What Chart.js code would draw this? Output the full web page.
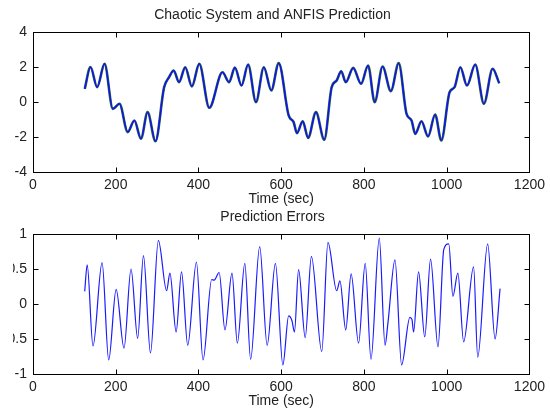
<!DOCTYPE html>
<html>
<head>
<meta charset="utf-8">
<script src="https://cdn.jsdelivr.net/npm/chart.js@4.4.1/dist/chart.umd.min.js"></script>
<style>
  body { margin: 0; background: #fff; width: 550px; height: 412px; overflow: hidden; position: relative; }
  .panel { position: absolute; left: 13px; width: 537px; }
  #top { top: 0; height: 212px; }
  #bottom { top: 206px; height: 206px; }
</style>
</head>
<body>
<div class="panel" id="top"><canvas id="systemChart"></canvas></div>
<div class="panel" id="bottom"><canvas id="errorChart"></canvas></div>
<script>
const timeTop = [125, 139, 155, 173, 193, 209, 229, 245, 261, 277, 296, 317, 329, 340, 353, 368, 384, 402, 426, 458,
  474, 488, 504, 520, 539, 558, 576, 594, 618, 630, 638, 652, 665, 684, 704, 722, 734, 745, 756, 774,
  793, 810, 826, 845, 865, 884, 903, 915, 924, 939, 955, 972, 987, 1007, 1019, 1033, 1049, 1069, 1090, 1111, 1127];
const actualTop = [0.75, 2.0, 0.85, 2.18, -0.39, -0.1, -1.72, -1.06, -2.1, -0.58, -2.24, 0.85, 1.42, 1.8, 1.13, 1.99, 0.89, 2.18, -0.33, 1.7,
  1.13, 1.97, 0.94, 2.14, -0.01, 1.99, 0.66, 2.22, -0.77, -1.15, -1.78, -1.1, -2.05, -0.58, -2.16, 0.85, 1.23, 1.76, 1.13, 1.95,
  1.04, 2.09, -0.01, 2.03, 0.62, 2.22, -0.68, -1.06, -1.82, -1.1, -1.97, -0.71, -2.2, 0.56, 0.85, 1.99, 0.94, 2.14, -0.1, 1.9, 1.07];
const predictedTop = [0.75, 2.0, 0.85, 2.18, -0.39, -0.1, -1.72, -1.06, -2.1, -0.58, -2.24, 0.85, 1.42, 1.8, 1.13, 1.99, 0.89, 2.18, -0.33, 1.7,
  1.13, 1.97, 0.94, 2.14, -0.01, 1.99, 0.66, 2.22, -0.77, -1.15, -1.78, -1.1, -2.05, -0.58, -2.16, 0.85, 1.23, 1.76, 1.13, 1.95,
  1.04, 2.09, -0.01, 2.03, 0.62, 2.22, -0.68, -1.06, -1.82, -1.1, -1.97, -0.71, -2.2, 0.56, 0.85, 1.99, 0.94, 2.14, -0.1, 1.9, 1.07];

const timeErr = [125, 131, 145, 167, 183, 201, 220, 237, 253, 267, 284, 303, 323, 331, 346, 359, 374, 395, 411, 432,
  438, 450, 464, 481, 494, 512, 526, 548, 566, 586, 604, 618, 626, 632, 642, 658, 673, 698, 713, 734,
  742, 756, 769, 787, 803, 817, 837, 851, 858, 875, 891, 911, 916, 920, 932, 947, 961, 979, 993, 1005,
  1015, 1027, 1041, 1065, 1075, 1099, 1117, 1129];
const errorValues = [0.18, 0.56, -0.6, 0.59, -0.8, 0.21, -0.63, 0.5, -0.49, 0.69, -0.7, 0.91, 0.19, 0.44, -0.4, 0.46, -0.59, 0.6, -0.8, 0.35,
  0.34, 0.45, -0.37, 0.44, -0.56, 0.58, -0.79, 0.82, -0.59, 0.58, -0.87, -0.17, -0.24, -0.4, 0.49, -0.48, 0.68, -0.68, 0.88, 0.19,
  0.33, -0.37, 0.43, -0.56, 0.58, -0.79, 0.94, -0.59, -0.27, 0.63, -0.87, -0.19, -0.22, -0.4, 0.46, -0.47, 0.64, -0.61, 0.78, 0.86,
  0.11, 0.44, -0.54, 0.53, -0.76, 0.86, -0.5, 0.22];

const TEXT = '#222';
const FONT = { family: 'Liberation Sans, Arial, sans-serif', size: 14, weight: 'normal' };

function points(xs, ys){
  return xs.map((x, i) => ({ x: x, y: ys[i] }));
}

// matlab style box with inward ticks on all sides
const boxTicks = {
  id: 'boxTicks',
  afterDatasetsDraw(chart){
    const { ctx, chartArea: a, scales: { x, y } } = chart;
    const L = Math.round(a.left) + 0.5, R = Math.round(a.right) + 0.5;
    const T = Math.round(a.top) + 0.5, B = Math.round(a.bottom) + 0.5;
    ctx.save();
    ctx.strokeStyle = '#000';
    ctx.lineWidth = 1;
    ctx.strokeRect(L, T, R - L, B - T);
    ctx.beginPath();
    x.ticks.forEach(t => {
      const px = Math.round(x.getPixelForValue(t.value)) + 0.5;
      ctx.moveTo(px, B); ctx.lineTo(px, B - 5);
      ctx.moveTo(px, T); ctx.lineTo(px, T + 5);
    });
    y.ticks.forEach(t => {
      const py = Math.round(y.getPixelForValue(t.value)) + 0.5;
      ctx.moveTo(L, py); ctx.lineTo(L + 5, py);
      ctx.moveTo(R, py); ctx.lineTo(R - 5, py);
    });
    ctx.stroke();
    ctx.restore();
  }
};

function axes(yMin, yMax, yStep, xHeight, xTitlePad){
  return {
    x: {
      type: 'linear', min: 0, max: 1200,
      ticks: { stepSize: 200, padding: 5, color: TEXT, font: FONT, maxRotation: 0, callback: v => String(v) },
      grid: { display: false, drawTicks: false },
      border: { display: false },
      title: { display: true, text: 'Time (sec)', color: TEXT, font: FONT, padding: { top: 0, bottom: xTitlePad } },
      afterFit(s){ s.height = xHeight; }
    },
    y: {
      min: yMin, max: yMax,
      ticks: { stepSize: yStep, padding: 6, color: TEXT, font: FONT, callback: v => String(v) },
      grid: { display: false, drawTicks: false },
      border: { display: false },
      afterFit(s){ s.width = 20; }
    }
  };
}

function createChart(id, datasets, title, titlePad, scales){
  return new Chart(document.getElementById(id), {
    type: 'line',
    data: { datasets: datasets },
    options: {
      responsive: true,
      maintainAspectRatio: false,
      animation: false,
      layout: { padding: { left: 0, right: 18, top: 0, bottom: 0 } },
      elements: { point: { radius: 0 }, line: { cubicInterpolationMode: 'monotone' } },
      plugins: {
        legend: { display: false },
        tooltip: { enabled: false },
        title: { display: true, text: title, color: TEXT, font: FONT, padding: titlePad }
      },
      scales: scales
    },
    plugins: [boxTicks]
  });
}

// first dataset is drawn on top, so the prediction goes first
createChart('systemChart', [
  { label: 'ANFIS Prediction', data: points(timeTop, predictedTop), borderColor: '#1010ff', borderWidth: 1.5 },
  { label: 'Chaotic System', data: points(timeTop, actualTop), borderColor: '#2f6a2f', borderWidth: 2.6 }
], 'Chaotic System and ANFIS Prediction', { top: 6.6, bottom: 8.6 }, axes(-4, 4, 2, 40, 4.6));

createChart('errorChart', [
  { label: 'Prediction Errors', data: points(timeErr, errorValues), borderColor: '#1a1aff', borderWidth: 1.2 }
], 'Prediction Errors', { top: 2.6, bottom: 8.6 }, axes(-1, 1, 0.5, 38, 2.6));
</script>
</body>
</html>
